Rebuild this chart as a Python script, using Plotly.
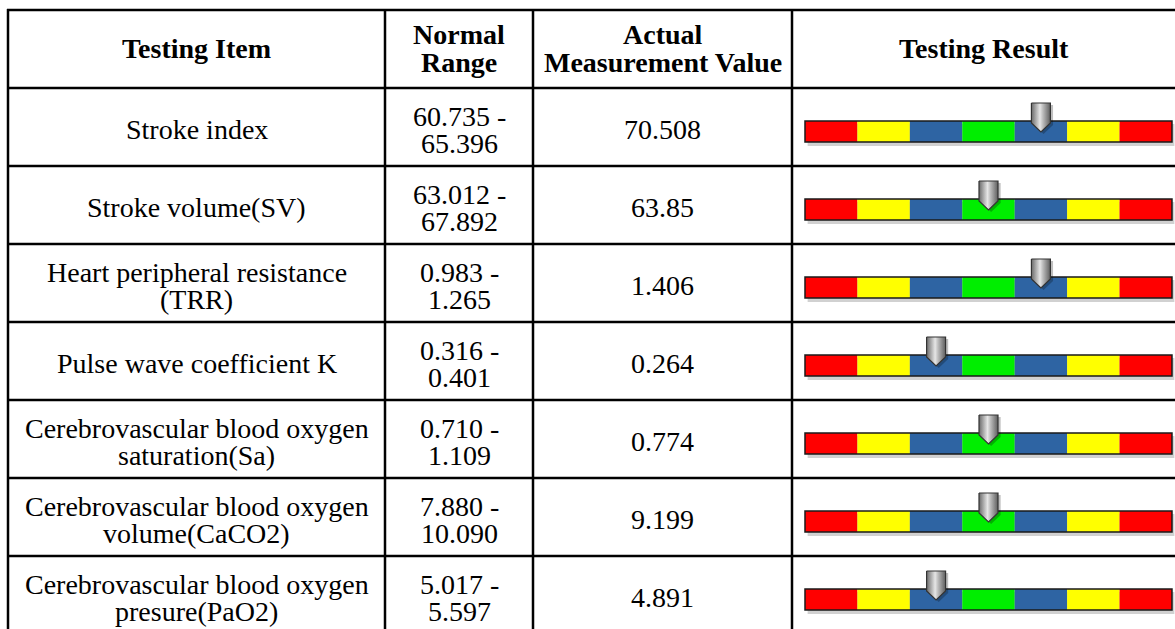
"""
Testing result table with colour-band gauges, drawn with Plotly shapes.
"""

import plotly.graph_objects as go

HEADERS = [["Testing Item"], ["Normal", "Range"],
           ["Actual", "Measurement Value"], ["Testing Result"]]

ITEMS = [
    ["Stroke index"],
    ["Stroke volume(SV)"],
    ["Heart peripheral resistance", "(TRR)"],
    ["Pulse wave coefficient K"],
    ["Cerebrovascular blood oxygen", "saturation(Sa)"],
    ["Cerebrovascular blood oxygen", "volume(CaCO2)"],
    ["Cerebrovascular blood oxygen", "presure(PaO2)"],
]
RANGE_LOW = ["60.735", "63.012", "0.983", "0.316", "0.710", "7.880", "5.017"]
RANGE_HIGH = ["65.396", "67.892", "1.265", "0.401", "1.109", "10.090", "5.597"]
MEASURED = ["70.508", "63.85", "1.406", "0.264", "0.774", "9.199", "4.891"]
# gauge band the pointer sits in (0 = far left red ... 6 = far right red)
LEVELS = [4, 3, 4, 2, 3, 3, 2]

BAND_COLORS = ["#ff0000", "#ffff00", "#2e64a3", "#00ee00", "#2e64a3", "#ffff00", "#ff0000"]

W, H = 1175, 629
COL_EDGES = [8, 385, 533, 792, 1190]
TOP = 10
HEAD_H = 78
ROW_H = 78
FONT = "Liberation Serif, Times New Roman, serif"
FS = 28
LINE = 27.5

# gauge axis: bands 0..7 mapped onto pixels 805..1172
G0, G1 = 805, 1172
SEG = (G1 - G0) / 7
GR0, GR1 = -0.15, 7.05
GD0 = (G0 + GR0 * SEG) / W
GD1 = min(1.0, (G0 + GR1 * SEG) / W)

fig = go.Figure()
shapes = []
annotations = []


def add_lines(lines, x, cy, bold=False):
    k = len(lines)
    if k == 1:
        cy += -0.3 if bold else 2.2
    else:
        cy += -0.5 if bold else 2.8
    for j, t in enumerate(lines):
        y = cy + (j - (k - 1) / 2) * LINE
        annotations.append(dict(xref="x", yref="y", x=x, y=y,
                                text=f"<b>{t}</b>" if bold else t,
                                showarrow=False, font=dict(family=FONT, size=FS, color="black")))


n = len(ITEMS)
row_edges = [TOP, TOP + HEAD_H] + [TOP + HEAD_H + ROW_H * (i + 1) for i in range(n)]

# grid lines
for y in row_edges:
    shapes.append(dict(type="line", xref="x", yref="y", x0=COL_EDGES[0] - 1, x1=COL_EDGES[-1],
                       y0=y, y1=y, line=dict(color="black", width=2.5)))
for x in COL_EDGES:
    shapes.append(dict(type="line", xref="x", yref="y", x0=x, x1=x,
                       y0=TOP - 1, y1=row_edges[-1], line=dict(color="black", width=2.5)))

centers = [(COL_EDGES[i] + COL_EDGES[i + 1]) / 2 for i in range(4)]
centers[3] = (COL_EDGES[3] + 1175) / 2

for i, h in enumerate(HEADERS):
    add_lines(h, centers[i], TOP + HEAD_H / 2, bold=True)

for r in range(n):
    top = TOP + HEAD_H + ROW_H * r
    cy = top + ROW_H / 2
    add_lines(ITEMS[r], centers[0], cy)
    add_lines([RANGE_LOW[r] + " -", RANGE_HIGH[r]], centers[1], cy)
    add_lines([MEASURED[r]], centers[2], cy)

    b0, b1 = top + 33, top + 54
    # bar shadow
    shapes.append(dict(type="rect", xref="x2", yref="y", x0=0.05, x1=7.05, y0=b0 + 3, y1=b1 + 4,
                       fillcolor="rgba(0,0,0,0.18)", line=dict(width=0), layer="below"))
    for k, col in enumerate(BAND_COLORS):
        shapes.append(dict(type="rect", xref="x2", yref="y", x0=k, x1=k + 1, y0=b0, y1=b1,
                           fillcolor=col, line=dict(width=0), layer="below"))
    shapes.append(dict(type="rect", xref="x2", yref="y", x0=0, x1=7, y0=b0, y1=b1,
                       line=dict(color="#1a1a1a", width=1.5), layer="below"))

    # pointer
    px_ = LEVELS[r] + 0.5
    hw = 9.5 / SEG
    ys = [top + 15, top + 15, top + 35, top + 44, top + 35, top + 15]
    xs = [px_ - hw, px_ + hw, px_ + hw, px_, px_ - hw, px_ - hw]
    fig.add_trace(go.Scatter(
        x=[x + 0.05 for x in xs], y=[y + 2 for y in ys], xaxis="x2", yaxis="y",
        mode="lines", fill="toself", fillcolor="rgba(0,0,0,0.25)",
        line=dict(width=0), hoverinfo="skip", showlegend=False))
    fig.add_trace(go.Scatter(
        x=xs, y=ys, xaxis="x2", yaxis="y", mode="lines", fill="toself",
        fillgradient=dict(type="horizontal",
                          colorscale=[[0, "#6a6a6a"], [0.45, "#e6e6e6"], [0.6, "#bdbdbd"], [1, "#5e5e5e"]]),
        line=dict(color="#333333", width=1.2), hoverinfo="skip", showlegend=False))

fig.update_layout(
    width=W, height=H,
    margin=dict(l=0, r=0, t=0, b=0),
    paper_bgcolor="white", plot_bgcolor="rgba(0,0,0,0)",
    xaxis=dict(range=[0, W], visible=False, domain=[0, 1]),
    xaxis2=dict(range=[GR0, GR1], visible=False, domain=[GD0, GD1], anchor="y"),
    yaxis=dict(range=[H, 0], visible=False),
    shapes=shapes,
    annotations=annotations,
    showlegend=False,
)

# page body has an 8px default margin; drop it so the figure sits at the window corner
fig.write_html("out.html", config={"displayModeBar": False},
               post_script="document.body.style.margin='0';")
